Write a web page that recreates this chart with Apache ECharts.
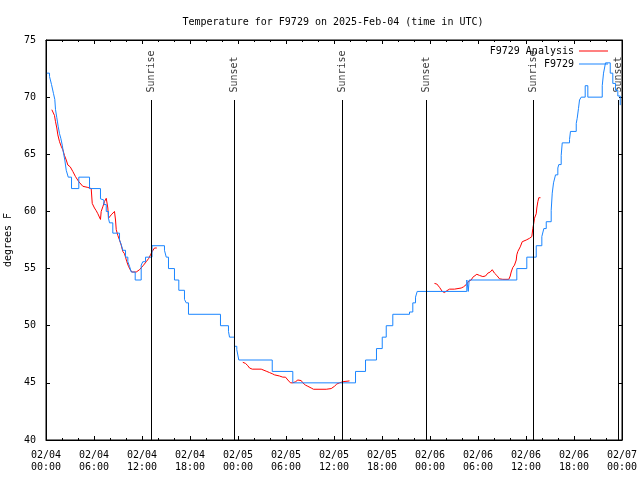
<!DOCTYPE html>
<html>
<head>
<meta charset="utf-8">
<script src="https://cdn.jsdelivr.net/npm/echarts@6/dist/echarts.min.js"></script>
<style>html,body{margin:0;padding:0;background:#fff}#c{width:640px;height:480px}</style>
</head>
<body>
<div id="c"></div>
<script>
// Hours since 2025-02-04 00:00 UTC
const blueHours = [0.1,0.44,0.69,0.94,1.1,1.19,1.35,1.53,1.69,1.85,2.03,2.19,2.35,2.53,2.78,3.19,4.1,5.44,6.81,6.98,7.23,7.53,7.81,7.94,8.35,9.19,9.4,9.6,9.94,10.23,10.44,10.65,11.15,11.9,12.1,12.44,13.25,14.81,15.03,15.31,16.06,16.6,17.31,17.53,17.81,21.81,22.81,22.94,23.56,23.85,24.1,28.28,30.85,38.69,39.94,41.31,42.03,42.53,43.35,45.44,45.85,46.19,46.4,52.6,52.78,52.9,58.85,60.1,61.28,61.98,62.23,62.53,63.15,63.28,63.44,63.69,63.98,64.1,64.4,64.53,65.44,65.56,66.28,66.4,66.56,66.69,66.9,67.4,67.73,69.53,69.69,69.94,70.53,70.85,71.19,71.48,71.78];
const blueTemps = [72.1,71.8,71.1,70.3,69.8,68.9,68.2,67.4,66.8,66.4,65.8,65.1,64.5,63.6,63.0,62.0,63.0,62.0,61.1,61.0,60.6,60.0,59.4,59.0,58.1,57.5,57.1,56.6,56.0,55.6,55.2,54.7,54.0,55.3,55.6,56.0,57.0,56.6,56.0,55.0,54.0,53.1,52.3,52.0,51.0,50.0,49.5,49.0,48.2,47.9,47.0,46.0,45.0,46.0,47.0,48.0,49.0,50.0,51.0,51.2,52.0,52.5,53.0,54.0,53.0,54.0,55.0,56.0,57.0,57.8,58.5,59.1,60.1,61.6,62.5,63.2,63.8,64.1,64.9,66.0,66.3,67.0,67.7,68.15,69.0,69.75,70.0,71.0,70.0,71.0,72.1,73.0,72.1,71.2,70.6,70.1,69.3];

const redHours1 = [0.73,0.94,1.06,1.19,1.35,1.48,1.69,1.9,2.1,2.31,2.53,2.73,3.03,3.35,3.69,4.1,4.6,5.23,5.65,5.78,5.85,6.06,6.28,6.48,6.69,6.81,6.9,7.1,7.31,7.53,7.65,7.73,7.81,7.94,8.15,8.35,8.56,8.69,8.78,8.98,9.19,9.4,9.6,9.81,9.94,10.1,10.31,10.53,10.73,11.28,11.69,11.9,12.19,12.53,12.85,13.06,13.28,13.56,13.85];
const redTemps1 = [68.9,68.9,68.4,67.85,67.3,66.7,66.1,65.7,65.4,64.9,64.5,64.06,63.9,63.5,63.04,62.6,62.2,62.1,62.0,60.7,60.6,60.3,60.06,59.8,59.7,59.3,60.0,60.4,60.85,61.15,61.2,60.3,59.4,59.5,59.7,59.8,60.0,59.25,58.4,57.9,57.5,57.06,56.5,56.3,56.0,55.6,55.2,54.9,54.7,54.7,54.9,55.0,55.3,55.6,55.9,56.2,56.5,56.8,56.8];
const redHours2 = [24.6,24.94,25.23,25.44,25.78,26.9,27.1,27.6,27.94,28.28,28.56,29.19,29.6,29.94,30.23,30.56,30.85,31.19,31.48,31.69,31.9,32.1,32.44,32.73,33.15,33.44,35.03,35.65,36.06,36.35,36.69,37.1,37.94];
const redTemps2 = [46.8,46.7,46.5,46.3,46.2,46.2,46.07,46.0,45.9,45.8,45.7,45.6,45.5,45.5,45.25,45.0,45.0,45.1,45.25,45.3,45.2,45.0,44.8,44.7,44.55,44.44,44.44,44.5,44.7,44.9,45.0,45.1,45.17];
const redHours3 = [48.56,48.85,49.19,49.53,49.81,50.1,50.44,51.06,51.28,51.9,52.19,52.53,52.85,53.15,53.35,53.56,53.85,54.19,54.6,54.94,55.23,55.53,55.78,56.06,56.35,56.69,57.1,57.85,58.03,58.15,58.35,58.56,58.78,58.85,58.98,59.28,59.53,60.03,60.44,60.73,60.85,60.98,61.06,61.28,61.35,61.48,61.6,61.81];
const redTemps3 = [53.7,53.65,53.36,53.0,52.9,53.06,53.2,53.2,53.3,53.3,53.4,53.6,53.9,54.0,54.24,54.4,54.5,54.4,54.3,54.35,54.6,54.7,54.9,54.6,54.4,54.1,54.06,54.06,54.35,54.7,55.1,55.3,55.75,56.2,56.5,56.9,57.35,57.5,57.65,57.8,58.5,59.0,59.4,59.8,60.3,60.85,61.2,61.2];

const sunHours = [13.19,23.56,37.06,47.56,60.94,71.56];
const sunLabels = ['Sunrise','Sunset','Sunrise','Sunset','Sunrise','Sunset'];

const yTicks = [40,45,50,55,60,65,70,75];
const xStartDay = 4;

const FONT = 'DejaVu Sans Mono';
const Y_MIN = 40, Y_MAX = 75;
const SUN_LINE_TOP = 69.75;
const SUN_LABEL_Y = 70.4;

function pairs(xs, ys){ return xs.map((x,i)=>[x, ys[i]]); }
const redData = [].concat(pairs(redHours1, redTemps1), [[null,null]], pairs(redHours2, redTemps2), [[null,null]], pairs(redHours3, redTemps3));
const blueData = pairs(blueHours, blueTemps);

function pad(n){ return (n<10?'0':'')+n; }
function xLabel(v){
  const d = xStartDay + Math.floor(v/24);
  const h = v % 24;
  return '02/' + pad(d) + '\n' + pad(h) + ':00';
}

const chart = echarts.init(document.getElementById('c'), null, {renderer:'canvas'});
const baseX = {
  type:'value', min:0, max:72, interval:6,
  axisLine:{show:true, onZero:false, lineStyle:{color:'#000', width:1}},
  axisTick:{show:true, inside:true, length:4, lineStyle:{color:'#000'}},
  minorTick:{show:true, splitNumber:3, length:2, lineStyle:{color:'#000'}},
  splitLine:{show:false}, minorSplitLine:{show:false}
};
const baseY = {
  type:'value', min:Y_MIN, max:Y_MAX, interval:5,
  axisLine:{show:true, onZero:false, lineStyle:{color:'#000', width:1}},
  axisTick:{show:true, inside:true, length:4, lineStyle:{color:'#000'}},
  splitLine:{show:false}
};

chart.setOption({
  animation:false,
  backgroundColor:'#fff',
  title:{
    text:'Temperature for F9729 on 2025-Feb-04 (time in UTC)',
    left:328, top:12, textAlign:'center',
    textStyle:{fontFamily:FONT, fontSize:10, fontWeight:'normal', color:'#000'}
  },
  legend:{
    data:['F9729 Analysis','F9729'],
    orient:'vertical', right:27, top:40, align:'right',
    icon:'rect', itemWidth:29, itemHeight:1, itemGap:1,
    textStyle:{fontFamily:FONT, fontSize:10, color:'#000', lineHeight:12}
  },
  grid:{left:46, right:18, top:40, bottom:40, show:true, borderColor:'#000', borderWidth:1,
    backgroundColor:'transparent', containLabel:false, outerBoundsMode:'none'},
  xAxis:[
    Object.assign({}, baseX, {position:'bottom',
      axisLabel:{show:true, margin:9, formatter:xLabel, fontFamily:FONT, fontSize:10, color:'#000', lineHeight:12}}),
    Object.assign({}, baseX, {position:'top', axisLabel:{show:false}})
  ],
  yAxis:[
    Object.assign({}, baseY, {position:'left', name:'degrees F', nameLocation:'middle', nameGap:26, nameRotate:90,
      nameTextStyle:{fontFamily:FONT, fontSize:10, color:'#000'},
      axisLabel:{show:true, margin:10, fontFamily:FONT, fontSize:10, color:'#000',
        formatter:function(v){ return yTicks.indexOf(v) >= 0 ? String(v) : ''; }}}),
    Object.assign({}, baseY, {position:'right', axisLabel:{show:false}, axisTick:{show:true, inside:true, length:3, lineStyle:{color:'#000'}}})
  ],
  series:[
    {
      name:'sun', type:'line', data:[], silent:true,
      markLine:{
        silent:true, symbol:['none','none'], animation:false,
        label:{show:false},
        lineStyle:{color:'#000', width:1, type:'solid'},
        data: sunHours.map(t=>[{coord:[t, Y_MIN]},{coord:[t, SUN_LINE_TOP]}])
      }
    },
    {
      name:'sunText', type:'scatter', silent:true, symbolSize:0,
      data: sunHours.map(t=>[t, SUN_LABEL_Y]),
      label:{show:true, position:[0,0], rotate:90, align:'left', verticalAlign:'middle',
        fontFamily:FONT, fontSize:10, color:'#000',
        formatter:function(p){ return sunLabels[p.dataIndex]; }}
    },
    {
      name:'F9729 Analysis', type:'line', data:redData, showSymbol:false, connectNulls:false,
      color:'#ff0000', lineStyle:{color:'#ff0000', width:1}
    },
    {
      name:'F9729', type:'line', data:blueData, showSymbol:false, step:'end',
      color:'#1a85ff', lineStyle:{color:'#1a85ff', width:1}
    }
  ]
});
</script>
</body>
</html>
